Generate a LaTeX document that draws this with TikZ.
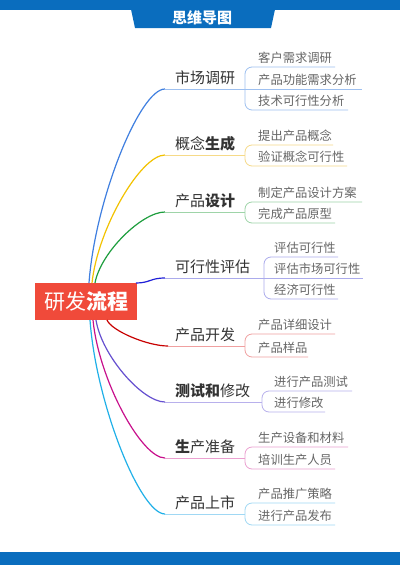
\documentclass[tikz,border=0pt]{standalone}
\usepackage{fontspec}
\newfontfamily\cjk{Noto Sans CJK SC}
\usetikzlibrary{calc}
\definecolor{topblue}{HTML}{0A6DBE}
\definecolor{rootred}{HTML}{F04A3A}
\definecolor{maintxt}{HTML}{333333}
\definecolor{subtxt}{HTML}{666666}
\definecolor{cA}{HTML}{3F7FE0}\definecolor{cAl}{HTML}{9EC0F0}
\definecolor{cB}{HTML}{F2C200}\definecolor{cBl}{HTML}{F6DA88}
\definecolor{cC}{HTML}{1E9E3E}\definecolor{cCl}{HTML}{9ED4A8}
\definecolor{cD}{HTML}{2020D8}\definecolor{cDl}{HTML}{ABABEC}
\definecolor{cE}{HTML}{C80000}\definecolor{cEl}{HTML}{F0A0A0}
\definecolor{cF}{HTML}{6650D0}\definecolor{cFl}{HTML}{B8B0EC}
\definecolor{cG}{HTML}{C8108C}\definecolor{cGl}{HTML}{EBA0D0}
\definecolor{cH}{HTML}{20B0E8}\definecolor{cHl}{HTML}{A0D8F4}
\newcommand\branchcurve[3]{\draw[curveline,#3] let \p1=(#1), \p2=(#2) in (#1) .. controls ({\x1+0.08*(\x2-\x1)},{\y1+0.43*(\y2-\y1)}) and ({\x1+0.67*(\x2-\x1)},{\y2}) .. (#2);}
\begin{document}
\begin{tikzpicture}[x=1pt,y=-1pt,
  curveline/.style={line width=1.2pt},
  uline/.style={line width=0.8pt},
  bracketline/.style={line width=0.8pt, rounded corners=7pt},
  maintext/.style={font=\cjk\fontsize{15}{18}\selectfont, text=maintxt, anchor=base west, inner sep=0pt},
  subtext/.style={font=\cjk\fontsize{12.3}{15}\selectfont, text=subtxt, anchor=base west, inner sep=0pt}]
\useasboundingbox (0,0) rectangle (400,565);
\fill[white] (0,0) rectangle (400,565);
% header and footer
\fill[topblue] (0,0) rectangle (400,10);
\fill[topblue] (129,0) -- (277,0) -- (271,28) -- (135,28) -- cycle;
\node[font=\cjk\bfseries\fontsize{15}{18}\selectfont, text=white, inner sep=0pt] (title) at (202,17.5) {思维导图};
\fill[topblue] (0,552) rectangle (400,565);
% root
\node[fill=rootred, minimum width=102pt, minimum height=37pt, inner sep=0pt, text=white,
  font=\cjk\fontsize{21}{25}\selectfont] (root) at (86,301.5) {研发\textbf{流程}};
% start points on root
\coordinate (r1) at (89,283);
\coordinate (r2) at (92,283);
\coordinate (r3) at (95,283);
\coordinate (r4) at (136,283);
\coordinate (r5) at (107,320);
\coordinate (r6) at (96,320);
\coordinate (r7) at (93,320);
\coordinate (r8) at (90,320);
% curve ends
\coordinate (e1) at (165,89);
\coordinate (e2) at (165,155);
\coordinate (e3) at (165,212);
\coordinate (e4) at (165,278);
\coordinate (e5) at (168,346);
\coordinate (e6) at (165,402);
\coordinate (e7) at (165,458);
\coordinate (e8) at (165,514);
% ---------- branch 1
\branchcurve{r1}{e1}{cA}
\node[maintext] (m1) at (175,83) {市场调研};
\coordinate (b1) at (245,89);
\coordinate (u11) at (335,67);
\coordinate (u12) at (362,89);
\coordinate (u13) at (348,110);
\draw[uline,cAl] (e1) -- (u12);
\draw[bracketline,cAl] (u11) -- (u11-|b1) -- (u13-|b1) -- (u13);
\node[subtext] (s11) at (258,62) {客户需求调研};
\node[subtext] (s12) at (258,84) {产品功能需求分析};
\node[subtext] (s13) at (258,105) {技术可行性分析};
% ---------- branch 2
\branchcurve{r2}{e2}{cB}
\node[maintext] (m2) at (175,149) {概念\textbf{生成}};
\coordinate (b2) at (245,155);
\coordinate (u21) at (333,145);
\coordinate (u22) at (347,166);
\draw[uline,cBl] (e2) -- (b2);
\draw[bracketline,cBl] (u21) -- (u21-|b2) -- (u22-|b2) -- (u22);
\node[subtext] (s21) at (258,140) {提出产品概念};
\node[subtext] (s22) at (258,161) {验证概念可行性};
% ---------- branch 3
\branchcurve{r3}{e3}{cC}
\node[maintext] (m3) at (175,206) {产品\textbf{设计}};
\coordinate (b3) at (245,212);
\coordinate (u31) at (362,202);
\coordinate (u32) at (335,223);
\draw[uline,cCl] (e3) -- (b3);
\draw[bracketline,cCl] (u31) -- (u31-|b3) -- (u32-|b3) -- (u32);
\node[subtext] (s31) at (258,197) {制定产品设计方案};
\node[subtext] (s32) at (258,218) {完成产品原型};
% ---------- branch 4
\draw[curveline,cD] (r4) .. controls (150,283) and (150,278) .. (e4);
\node[maintext] (m4) at (175,272) {可行性评估};
\coordinate (b4) at (264,278);
\coordinate (u41) at (338,257);
\coordinate (u42) at (363,278);
\coordinate (u43) at (338,299);
\draw[uline,cDl] (e4) -- (u42);
\draw[bracketline,cDl] (u41) -- (u41-|b4) -- (u43-|b4) -- (u43);
\node[subtext] (s41) at (274,252) {评估可行性};
\node[subtext] (s42) at (274,273) {评估市场可行性};
\node[subtext] (s43) at (274,294) {经济可行性};
% ---------- branch 5
\branchcurve{r5}{e5}{cE}
\node[maintext] (m5) at (175,340) {产品开发};
\coordinate (b5) at (245,346);
\coordinate (u51) at (335,334);
\coordinate (u52) at (308,357);
\draw[uline,cEl] (e5) -- (b5);
\draw[bracketline,cEl] (u51) -- (u51-|b5) -- (u52-|b5) -- (u52);
\node[subtext] (s51) at (258,329) {产品详细设计};
\node[subtext] (s52) at (258,352) {产品样品};
% ---------- branch 6
\branchcurve{r6}{e6}{cF}
\node[maintext] (m6) at (175,396) {\textbf{测试和}修改};
\coordinate (b6) at (262,402);
\coordinate (u61) at (352,391);
\coordinate (u62) at (325,412);
\draw[uline,cFl] (e6) -- (b6);
\draw[bracketline,cFl] (u61) -- (u61-|b6) -- (u62-|b6) -- (u62);
\node[subtext] (s61) at (274,386) {进行产品测试};
\node[subtext] (s62) at (274,407) {进行修改};
% ---------- branch 7
\branchcurve{r7}{e7}{cG}
\node[maintext] (m7) at (175,452) {\textbf{生}产准备};
\coordinate (b7) at (245,458);
\coordinate (u71) at (348,447);
\coordinate (u72) at (335,469);
\draw[uline,cGl] (e7) -- (b7);
\draw[bracketline,cGl] (u71) -- (u71-|b7) -- (u72-|b7) -- (u72);
\node[subtext] (s71) at (258,442) {生产设备和材料};
\node[subtext] (s72) at (258,464) {培训生产人员};
% ---------- branch 8
\branchcurve{r8}{e8}{cH}
\node[maintext] (m8) at (175,508) {产品上市};
\coordinate (b8) at (245,514);
\coordinate (u81) at (335,503);
\coordinate (u82) at (335,525);
\draw[uline,cHl] (e8) -- (b8);
\draw[bracketline,cHl] (u81) -- (u81-|b8) -- (u82-|b8) -- (u82);
\node[subtext] (s81) at (258,498) {产品推广策略};
\node[subtext] (s82) at (258,520) {进行产品发布};
\end{tikzpicture}
\end{document}
